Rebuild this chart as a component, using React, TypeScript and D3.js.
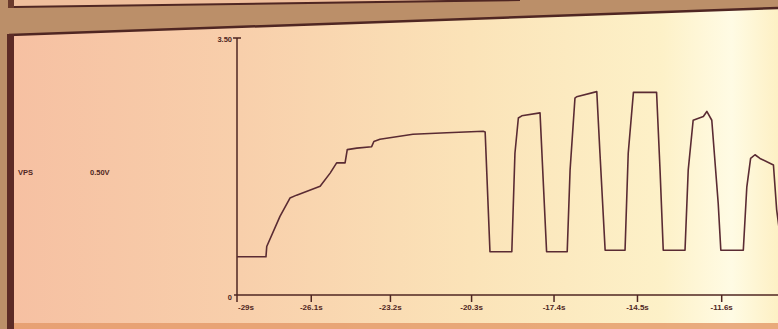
import React, { useRef, useEffect } from 'react';
import * as d3 from 'd3';

// time axis ticks (seconds) and the captured VPS trace
const timeTicks = [-29, -26.1, -23.2, -20.3, -17.4, -14.5, -11.6];
const traceTime = [
  -29.0, -27.82, -27.79, -27.28, -26.9, -26.65, -25.77, -25.4, -25.16, -24.85,
  -24.77, -24.42, -23.88, -23.8, -23.58, -22.39, -21.18, -19.89, -19.82, -19.65,
  -18.88, -18.77, -18.65, -18.53, -17.89, -17.78, -17.66, -16.94, -16.84, -16.67,
  -16.61, -15.91, -15.8, -15.62, -14.93, -14.82, -14.64, -13.84, -13.72, -13.61,
  -12.86, -12.75, -12.58, -12.23, -12.11, -11.94, -11.72, -11.63, -10.86, -10.74,
  -10.61, -10.46, -10.29, -9.83, -9.72, -9.54,
];
const traceVolts = [
  0.52, 0.52, 0.66, 1.07, 1.32, 1.36, 1.48, 1.66, 1.8, 1.8,
  1.98, 2.0, 2.02, 2.09, 2.12, 2.19, 2.21, 2.23, 2.22, 0.59,
  0.59, 1.93, 2.41, 2.44, 2.48, 1.57, 0.59, 0.59, 1.7, 2.68,
  2.7, 2.77, 1.93, 0.61, 0.61, 1.93, 2.76, 2.76, 1.7, 0.61,
  0.61, 1.7, 2.38, 2.43, 2.5, 2.38, 1.25, 0.61, 0.61, 1.47,
  1.86, 1.91, 1.86, 1.77, 1.16, 0.61,
];
const voltTicks = [0, 3.5];
const channelName = 'VPS';
const channelScale = '0.50V';

const W = 778;
const H = 329;
const INK = '#4f2622';

export default function App() {
  const svgRef = useRef<SVGSVGElement>(null);

  useEffect(() => {
    const svg = d3.select(svgRef.current);
    svg.selectAll('*').remove();

    // background: photo of the monitor
    const defs = svg.append('defs');
    const grad = defs
      .append('linearGradient')
      .attr('id', 'panel')
      .attr('x1', 0)
      .attr('x2', 1)
      .attr('y1', 0)
      .attr('y2', 0);
    [
      ['0%', '#f6c0a2'],
      ['30%', '#f8cfab'],
      ['60%', '#fbe3b8'],
      ['85%', '#fdf1c8'],
      ['94%', '#fffbe4'],
      ['100%', '#fdf0c4'],
    ].forEach(([o, c]) => grad.append('stop').attr('offset', o).attr('stop-color', c));

    svg.append('rect').attr('width', W).attr('height', H).attr('fill', '#bb8f69');
    // upper panel corner
    svg
      .append('polygon')
      .attr('points', '14,0 520,0 14,7')
      .attr('fill', '#efbf9d');
    svg
      .append('line')
      .attr('x1', 14)
      .attr('y1', 7)
      .attr('x2', 520)
      .attr('y2', 0)
      .attr('stroke', INK)
      .attr('stroke-width', 2);
    svg.append('rect').attr('x', 8).attr('y', 0).attr('width', 6).attr('height', 8).attr('fill', '#6a3a2c');

    // lower panel
    svg
      .append('polygon')
      .attr('points', `9,35 ${W},8 ${W},${H} 9,${H}`)
      .attr('fill', 'url(#panel)');
    svg
      .append('rect')
      .attr('x', 9)
      .attr('y', 323)
      .attr('width', W)
      .attr('height', 6)
      .attr('fill', '#e39868')
      .attr('opacity', 0.8);
    svg
      .append('line')
      .attr('x1', 9)
      .attr('y1', 35)
      .attr('x2', W)
      .attr('y2', 8)
      .attr('stroke', INK)
      .attr('stroke-width', 2.5);
    svg.append('rect').attr('x', 7).attr('y', 34).attr('width', 7).attr('height', H - 34).attr('fill', '#5c2b26');

    // scales: elapsed time from -29s, slight perspective from the photo
    const t0 = timeTicks[0];
    const xPow = d3.scalePow().exponent(1.047).domain([0, 17.4]).range([237, 721.7]);
    const x = (t: number) => xPow(t - t0);
    const y = d3.scaleLinear().domain([0, 3.5]).range([295, 38]);

    const font = "'Liberation Sans', Arial, sans-serif";

    // y axis
    svg
      .append('line')
      .attr('x1', x(t0))
      .attr('x2', x(t0))
      .attr('y1', y(3.5))
      .attr('y2', y(0) + 7)
      .attr('stroke', INK)
      .attr('stroke-width', 1.5);
    svg
      .append('line')
      .attr('x1', x(t0) - 4)
      .attr('x2', x(t0) + 4)
      .attr('y1', y(3.5))
      .attr('y2', y(3.5))
      .attr('stroke', INK)
      .attr('stroke-width', 1.5);
    svg
      .selectAll('.y-label')
      .data(voltTicks)
      .join('text')
      .attr('class', 'y-label')
      .attr('x', x(t0) - 5)
      .attr('y', (d) => y(d) + (d === 0 ? 5 : 4))
      .attr('text-anchor', 'end')
      .attr('font-family', font)
      .attr('font-weight', 'bold')
      .attr('font-size', 7.5)
      .attr('fill', INK)
      .text((d) => (d === 0 ? '0' : d.toFixed(2)));

    // x axis
    svg
      .append('line')
      .attr('x1', x(t0) - 3)
      .attr('x2', W)
      .attr('y1', y(0))
      .attr('y2', y(0))
      .attr('stroke', INK)
      .attr('stroke-width', 1.5);
    svg
      .selectAll('.x-tick')
      .data(timeTicks.slice(1))
      .join('line')
      .attr('class', 'x-tick')
      .attr('x1', (d) => x(d))
      .attr('x2', (d) => x(d))
      .attr('y1', y(0))
      .attr('y2', y(0) + 7)
      .attr('stroke', INK)
      .attr('stroke-width', 1.5);
    svg
      .selectAll('.x-label')
      .data(timeTicks)
      .join('text')
      .attr('class', 'x-label')
      .attr('x', (d, i) => (i === 0 ? x(d) + 1 : x(d)))
      .attr('y', y(0) + 15)
      .attr('text-anchor', (d, i) => (i === 0 ? 'start' : 'middle'))
      .attr('font-family', font)
      .attr('font-weight', 'bold')
      .attr('font-size', 8)
      .attr('fill', INK)
      .text((d) => `${d}s`);

    // channel labels
    svg
      .append('text')
      .attr('x', 18)
      .attr('y', 175)
      .attr('font-family', font)
      .attr('font-weight', 'bold')
      .attr('font-size', 7.5)
      .attr('fill', INK)
      .text(channelName);
    svg
      .append('text')
      .attr('x', 90)
      .attr('y', 175)
      .attr('font-family', font)
      .attr('font-weight', 'bold')
      .attr('font-size', 7.5)
      .attr('fill', INK)
      .text(channelScale);

    // trace
    defs
      .append('clipPath')
      .attr('id', 'plot')
      .append('rect')
      .attr('x', x(t0))
      .attr('y', 0)
      .attr('width', W - x(t0))
      .attr('height', H);
    const points = traceTime.map((t, i) => [t, traceVolts[i]] as [number, number]);
    const line = d3
      .line<[number, number]>()
      .x((d) => x(d[0]))
      .y((d) => y(d[1]));
    svg
      .append('path')
      .attr('d', line(points))
      .attr('clip-path', 'url(#plot)')
      .attr('fill', 'none')
      .attr('stroke', '#5a2b33')
      .attr('stroke-width', 1.6)
      .attr('stroke-linejoin', 'round');
  }, []);

  return (
    <div style={{ position: 'absolute', left: 0, top: 0 }}>
      <svg ref={svgRef} width={W} height={H} style={{ display: 'block' }} />
    </div>
  );
}
